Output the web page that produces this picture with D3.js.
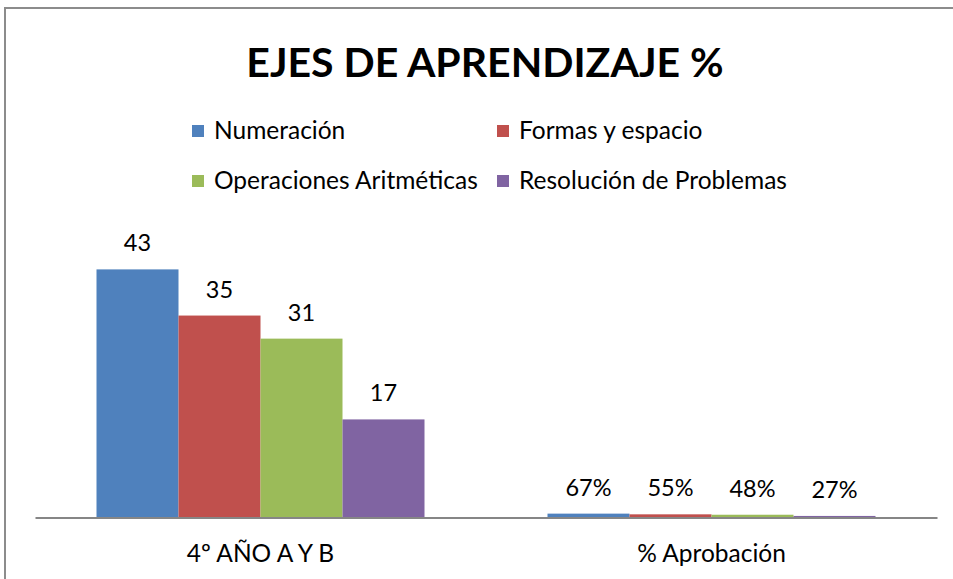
<!DOCTYPE html>
<html><head><meta charset="utf-8">
<script src="https://cdn.jsdelivr.net/npm/d3@7"></script>
<style>
body{margin:0;background:#fff;}
text{font-family:Lato,"Open Sans",sans-serif;}
</style></head>
<body>
<svg id="c" width="953" height="579"></svg>
<script>
const title = "EJES DE APRENDIZAJE %";
const categories = ["4º AÑO A Y B", "% Aprobación"];
const seriesNames = ["Numeración", "Formas y espacio", "Operaciones Aritméticas", "Resolución de Problemas"];
const seriesColors = ["#4f81bd", "#c0504d", "#9bbb59", "#8064a2"];
const valuesAno = [43, 35, 31, 17];
const valuesAprob = [0.67, 0.55, 0.48, 0.27];
const labelsAno = ["43", "35", "31", "17"];
const labelsAprob = ["67%", "55%", "48%", "27%"];
const yMax = 50;

const svg = d3.select("#c");
svg.append("rect").attr("x",5).attr("y",8).attr("width",960).attr("height",590)
  .attr("fill","#fff").attr("stroke","#8c8c8c").attr("stroke-width",2);

svg.append("text").attr("x",485).attr("y",77).attr("text-anchor","middle")
  .attr("font-weight","bold").attr("font-size",41).attr("fill","#000").text(title);

// legend
const legPos = [[192,131],[497,131],[192,181],[497,181]];
seriesNames.forEach((n,i)=>{
  const g = svg.append("g").attr("transform",`translate(${legPos[i][0]},${legPos[i][1]})`);
  g.append("rect").attr("x",0).attr("y",-6).attr("width",12).attr("height",12).attr("fill",seriesColors[i]);
  g.append("text").attr("x",22).attr("y",8).attr("font-size",24.5).attr("fill","#000").text(n);
});

const data = categories.map((c,ci)=>({cat:c, vals:(ci===0?valuesAno:valuesAprob), labels:(ci===0?labelsAno:labelsAprob)}));

const x0 = d3.scaleBand().domain(categories).range([35,937]).paddingInner(0).paddingOuter(0);
const x1 = d3.scaleBand().domain(d3.range(4)).range([61.5, x0.bandwidth()-61.5]);
const y = d3.scaleLinear().domain([0,yMax]).range([517.5, 229]);

data.forEach(d=>{
  const g = svg.append("g").attr("transform",`translate(${x0(d.cat)},0)`);
  d.vals.forEach((v,i)=>{
    g.append("rect").attr("x",x1(i)).attr("width",x1.bandwidth())
      .attr("y",y(v)).attr("height",y(0)-y(v)).attr("fill",seriesColors[i]);
    g.append("text").attr("x",x1(i)+x1.bandwidth()/2).attr("y",y(v)-18)
      .attr("text-anchor","middle").attr("font-size",23.5).attr("fill","#000").text(d.labels[i]);
  });
});

const xAxis = d3.axisBottom(x0).tickSize(0).tickPadding(0);
const ax = svg.append("g").attr("transform",`translate(0,${y(0)})`).call(xAxis);
ax.select(".domain").attr("stroke","#868686").attr("stroke-width",2);
ax.selectAll(".tick text").attr("font-family","Lato,'Open Sans',sans-serif").attr("font-size",24.5)
  .attr("fill","#000").attr("dy",0).attr("y",44);
</script>
</body></html>
